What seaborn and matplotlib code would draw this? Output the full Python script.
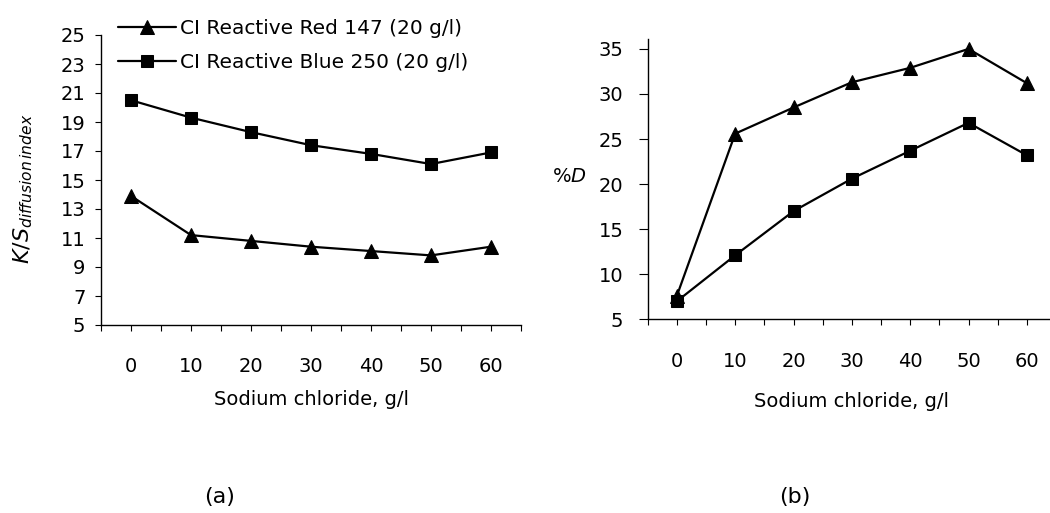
import numpy as np
import pandas as pd
import matplotlib
matplotlib.use("Agg")
import matplotlib.pyplot as plt
import seaborn as sns

# ---- data ----
nacl = ["0", "10", "20", "30", "40", "50", "60"]
red_ks = [13.9, 11.2, 10.8, 10.4, 10.1, 9.8, 10.4]
blue_ks = [20.5, 19.3, 18.3, 17.4, 16.8, 16.1, 16.9]
red_d = [7.6, 25.6, 28.5, 31.3, 32.9, 35.0, 31.2]
blue_d = [7.0, 12.1, 17.0, 20.6, 23.7, 26.8, 23.2]
series_names = ["CI Reactive Red 147 (20 g/l)", "CI Reactive Blue 250 (20 g/l)"]

sns.set_style("ticks")
plt.rcParams["font.family"] = ["DejaVu Sans"]
plt.rcParams["mathtext.fontset"] = "dejavusans"
plt.rcParams["text.color"] = "black"
plt.rcParams["axes.labelcolor"] = "black"
plt.rcParams["xtick.color"] = "black"
plt.rcParams["ytick.color"] = "black"

W, H = 1050, 513
fig = plt.figure(figsize=(W / 100, H / 100), dpi=100)

def px_axes(l, r, t, b):
    return fig.add_axes([l / W, 1 - b / H, (r - l) / W, (b - t) / H])

ax_a = px_axes(101, 521, 35, 325)
ax_b = px_axes(647.7, 1056, 39, 319.3)

pos = np.arange(len(nacl))

def draw(ax, red, blue, label=True):
    df = pd.DataFrame({"x": np.concatenate([pos, pos]),
                       "y": red + blue,
                       "dye": [series_names[0]] * len(pos) + [series_names[1]] * len(pos)})
    sns.lineplot(data=df, x="x", y="y", style="dye", markers={series_names[0]: "^", series_names[1]: "s"},
                 dashes=False, color="black", linewidth=1.6, markersize=10, markeredgecolor="black",
                 ax=ax, legend=label, sort=False)
    for ln in ax.lines:
        if ln.get_marker() == "s":
            ln.set_markersize(8.5)

draw(ax_a, red_ks, blue_ks, label=True)
draw(ax_b, red_d, blue_d, label=False)

for ax in (ax_a, ax_b):
    sns.despine(ax=ax)
    ax.set_xlim(-0.5, 6.5)
    ax.set_xticks(pos)
    ax.set_xticklabels(nacl)
    ax.set_xticks(np.arange(-0.5, 6.6, 1.0), minor=True)
    ax.tick_params(axis="x", which="both", direction="out", length=4.3, width=0.8, color="black",
                   pad=19, labelsize=14, labelcolor="black")
    ax.set_xlabel("Sodium chloride, g/l", fontsize=14, color="black")
    for sp in ax.spines.values():
        sp.set_color("black")
        sp.set_linewidth(1.0)

ax_a.set_ylim(5, 25)
ax_a.set_yticks(np.arange(5, 26, 2))
ax_a.tick_params(axis="y", direction="out", length=4.3, width=0.8, pad=7, labelsize=14, labelcolor="black")
ax_a.set_ylabel(r"$K/S_{diffusion\,index}$", fontsize=16, color="black")
ax_a.yaxis.set_label_coords(-0.158, 0.47)
ax_a.xaxis.set_label_coords(0.5, -0.225)

ax_b.set_ylim(5, 36.1)
ax_b.set_yticks(np.arange(5, 36, 5))
ax_b.tick_params(axis="y", direction="out", length=6.5, width=0.8, pad=11, labelsize=14, labelcolor="black")
ax_b.set_ylabel(r"%$D$", fontsize=14, rotation=0, ha="right", va="center", color="black")
ax_b.yaxis.set_label_coords(-0.149, 0.508)
ax_b.xaxis.set_label_coords(0.5, -0.26)

h, l = ax_a.get_legend_handles_labels()
leg = ax_a.legend(h, l, loc="upper left", bbox_to_anchor=(118 / W, 1 - 19 / H),
                  bbox_transform=fig.transFigure, frameon=False, fontsize=14.5,
                  handlelength=2.9, handletextpad=0.2, labelspacing=0.75, borderpad=0, borderaxespad=0)
for t in leg.get_texts():
    t.set_color("black")

fig.text(220 / W, 1 - 497 / H, "(a)", ha="center", va="center", fontsize=16, color="black")
fig.text(795 / W, 1 - 497 / H, "(b)", ha="center", va="center", fontsize=16, color="black")

fig.savefig("out.png", dpi=100)
